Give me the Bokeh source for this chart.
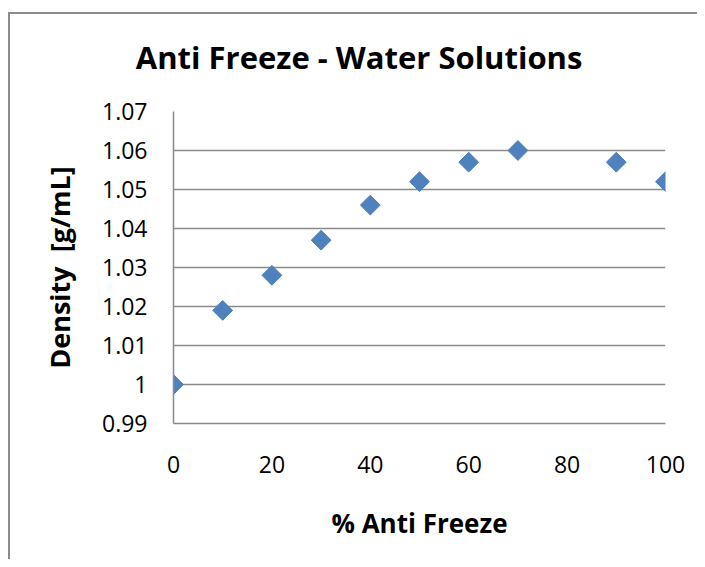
from bokeh.plotting import figure
from bokeh.models import LinearAxis, FixedTicker, Range1d
from bokeh.embed import file_html
from bokeh.resources import INLINE
import math

# data
pct_anti_freeze = [0, 10, 20, 30, 40, 50, 60, 70, 90, 100]
density = [1.000, 1.019, 1.028, 1.037, 1.046, 1.052, 1.057, 1.060, 1.057, 1.052]
x_ticks = [0, 20, 40, 60, 80, 100]
y_ticks = [0.99, 1.00, 1.01, 1.02, 1.03, 1.04, 1.05, 1.06, 1.07]

title_text = "Anti Freeze - Water Solutions"
x_label = "% Anti Freeze"
y_label = "Density\u00a0\u00a0[g/mL]"

FONT = "Open Sans"
GRID = "#8a8a8a"

p = figure(width=689, height=547, output_backend="svg", toolbar_location=None,
           x_range=Range1d(0, 100), y_range=Range1d(0.99, 1.07),
           min_border_left=163, min_border_right=34, min_border_top=97, min_border_bottom=138)
p.title.visible = False
p.outline_line_color = None
p.background_fill_color = "white"
p.border_fill_color = "white"

p.xgrid.visible = False
p.ygrid.grid_line_color = GRID
p.ygrid.grid_line_width = 1.5
p.yaxis.ticker = FixedTicker(ticks=y_ticks)
p.xaxis.ticker = FixedTicker(ticks=x_ticks)
p.yaxis.major_label_overrides = {t: ("1" if abs(t - 1.0) < 1e-9 else f"{t:.2f}") for t in y_ticks}

for ax in (p.xaxis, p.yaxis):
    ax.axis_line_color = GRID
    ax.axis_line_width = 1.5
    ax.major_tick_out = 0
    ax.major_tick_in = 0
    ax.minor_tick_out = 0
    ax.minor_tick_in = 0
    ax.major_label_text_font = FONT
    ax.major_label_text_font_size = "23px"
    ax.major_label_text_color = "black"
    ax.axis_label_text_font = FONT
    ax.axis_label_text_font_style = "bold"
    ax.axis_label_text_color = "black"

p.xaxis.axis_label = x_label
p.yaxis.axis_label = y_label
p.xaxis.axis_label_text_font_size = "26px"
p.yaxis.axis_label_text_font_size = "27px"
p.xaxis.major_label_standoff = 32
p.xaxis.axis_label_standoff = 29
p.yaxis.major_label_standoff = 26
p.yaxis.axis_label_standoff = 21

p.scatter(pct_anti_freeze, density, marker="square", size=14, angle=math.pi / 4,
          fill_color="#4F81BD", line_color="#4A7EBB", line_width=1)

# chart title drawn as the label of an empty axis above the frame;
# trailing no-break spaces shift its visual centre left to match the original
title_axis = LinearAxis(ticker=FixedTicker(ticks=[]), axis_label=title_text + "\u00a0" * 15,
                        axis_line_color=None, major_tick_out=0, major_tick_in=0,
                        minor_tick_out=0, minor_tick_in=0, major_label_standoff=0,
                        axis_label_standoff=34, axis_label_text_font=FONT,
                        axis_label_text_font_size="31px", axis_label_text_font_style="bold",
                        axis_label_text_color="black")
p.add_layout(title_axis, "above")

p.styles = {"border-left": "2px solid #8c8c8c", "border-top": "2px solid #8c8c8c",
            "margin-top": "12px", "margin-left": "8px"}

open("out.html", "w").write(file_html(p, INLINE))
